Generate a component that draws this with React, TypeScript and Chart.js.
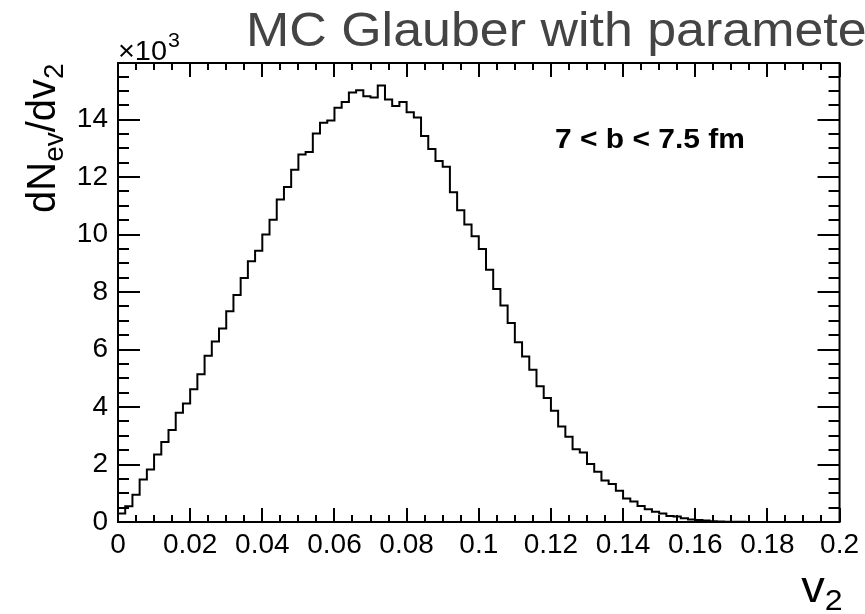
import React, { useEffect, useRef } from 'react';
import { Chart, registerables } from 'chart.js';

Chart.register(...registerables);

// ---- data ----
const X_MIN = 0;
const X_MAX = 0.2;
const BIN_COUNT = 100;
const Y_MAX = 15.97; // in units of 10^3

// dN_ev/dv_2 per bin (units of 10^3)
const binCounts = [
  0.3, 0.55, 0.95, 1.48, 1.83, 2.35, 2.78, 3.2, 3.8, 4.12,
  4.62, 5.14, 5.78, 6.28, 6.73, 7.33, 7.9, 8.49, 9.07, 9.44,
  10.0, 10.52, 11.22, 11.66, 12.26, 12.79, 12.87, 13.52, 13.89, 13.97,
  14.41, 14.61, 14.94, 15.02, 14.81, 14.77, 15.19, 14.7, 14.47, 14.61,
  14.26, 14.07, 13.43, 12.98, 12.56, 12.36, 11.47, 10.85, 10.35, 9.94,
  9.5, 8.78, 8.11, 7.53, 6.92, 6.25, 5.76, 5.3, 4.72, 4.31,
  3.87, 3.32, 2.97, 2.53, 2.42, 2.02, 1.75, 1.44, 1.32, 1.09,
  0.82, 0.71, 0.56, 0.44, 0.36, 0.3, 0.21, 0.19, 0.13, 0.09,
  0.07, 0.05, 0.03, 0.02, 0.01, 0.01, 0.005, 0.004, 0.002, 0,
  0, 0, 0, 0, 0, 0, 0, 0, 0, 0,
];

const xTickValues = [0, 0.02, 0.04, 0.06, 0.08, 0.1, 0.12, 0.14, 0.16, 0.18, 0.2];
const xTickLabels = ['0', '0.02', '0.04', '0.06', '0.08', '0.1', '0.12', '0.14', '0.16', '0.18', '0.2'];
const xMinorStep = 0.005;
const yTickValues = [0, 2, 4, 6, 8, 10, 12, 14];
const yTickLabels = ['0', '2', '4', '6', '8', '10', '12', '14'];
const yMinorStep = 0.5;

const titleText = 'MC Glauber with parameters';
const annotationText = '7 < b < 7.5 fm';

const FONT = "'Liberation Sans', Arial, Helvetica, sans-serif";
const STRETCH = 1.07;

function drawStretched(ctx: CanvasRenderingContext2D, text: string, x: number, y: number, font: string, sx = STRETCH) {
  ctx.save();
  ctx.font = font;
  ctx.translate(x, y);
  ctx.scale(sx, 1);
  ctx.fillText(text, 0, 0);
  const w = ctx.measureText(text).width * sx;
  ctx.restore();
  return w;
}

const rootFramePlugin = {
  id: 'rootFrame',
  afterDraw(chart: any) {
    const ctx = chart.ctx as CanvasRenderingContext2D;
    const { left, right, top, bottom } = chart.chartArea;
    const xs = chart.scales.x;
    const ys = chart.scales.y;
    ctx.save();
    ctx.strokeStyle = '#000';
    ctx.lineWidth = 2;
    ctx.strokeRect(left, top, right - left, bottom - top);

    // x ticks (bottom & top), inward
    const nx = Math.round((X_MAX - X_MIN) / xMinorStep);
    ctx.beginPath();
    for (let k = 0; k <= nx; k++) {
      const v = X_MIN + k * xMinorStep;
      const px = Math.round(xs.getPixelForValue(v));
      const major = k % 4 === 0;
      const len = major ? 14 : 7;
      ctx.moveTo(px, bottom);
      ctx.lineTo(px, bottom - len);
      ctx.moveTo(px, top);
      ctx.lineTo(px, top + len);
    }
    // y ticks (left & right), inward
    const ny = Math.floor(Y_MAX / yMinorStep);
    for (let k = 0; k <= ny; k++) {
      const v = k * yMinorStep;
      const py = Math.round(ys.getPixelForValue(v));
      const major = k % 4 === 0;
      const len = major ? 22 : 11;
      ctx.moveTo(left, py);
      ctx.lineTo(left + len, py);
      ctx.moveTo(right, py);
      ctx.lineTo(right - len, py);
    }
    ctx.stroke();

    ctx.textBaseline = 'alphabetic';
    ctx.textAlign = 'left';

    // title
    ctx.fillStyle = '#444';
    drawStretched(ctx, titleText, 246, 46, `49px ${FONT}`, 1.06);

    // x10^3
    ctx.fillStyle = '#000';
    const w10 = drawStretched(ctx, '\u00d710', left, 60, `27px ${FONT}`);
    drawStretched(ctx, '3', left + w10 + 1, 47, `20px ${FONT}`);

    // annotation
    drawStretched(ctx, annotationText, 555, 148, `bold 28px ${FONT}`);

    // x-axis title v_2
    ctx.font = `44px ${FONT}`;
    const wv = ctx.measureText('v').width * STRETCH;
    ctx.font = `30px ${FONT}`;
    const w2 = ctx.measureText('2').width * STRETCH;
    const xStart = right + 3 - wv - w2;
    drawStretched(ctx, 'v', xStart, 602, `44px ${FONT}`);
    drawStretched(ctx, '2', xStart + wv, 610, `30px ${FONT}`);

    // y-axis title dN_ev/dv_2, rotated
    ctx.save();
    ctx.translate(55, 213);
    ctx.rotate(-Math.PI / 2);
    const parts: [string, number, number][] = [
      ['dN', 40, 0],
      ['ev', 28, 8],
      ['/dv', 40, 0],
      ['2', 28, 8],
    ];
    let cx = 0;
    for (const [t, size, dy] of parts) {
      ctx.font = `${size}px ${FONT}`;
      ctx.fillText(t, cx, dy);
      cx += ctx.measureText(t).width;
    }
    ctx.restore();

    ctx.restore();
  },
};

export default function App() {
  const canvasRef = useRef<HTMLCanvasElement | null>(null);

  useEffect(() => {
    if (!canvasRef.current) return;
    const binWidth = (X_MAX - X_MIN) / BIN_COUNT;
    const points = binCounts.map((c, i) => ({ x: X_MIN + i * binWidth, y: c }));
    points.push({ x: X_MAX, y: binCounts[BIN_COUNT - 1] });

    const tickFont = { family: FONT, size: 28 };
    const chart = new Chart(canvasRef.current, {
      type: 'line',
      data: {
        datasets: [
          {
            data: points,
            stepped: 'before',
            borderColor: '#000',
            borderWidth: 2,
            pointRadius: 0,
            fill: false,
            tension: 0,
          },
        ],
      },
      options: {
        responsive: false,
        animation: false,
        layout: { padding: { left: 0, right: 22, top: 63, bottom: 0 } },
        plugins: { legend: { display: false }, tooltip: { enabled: false }, title: { display: false } },
        scales: {
          x: {
            type: 'linear',
            min: X_MIN,
            max: X_MAX,
            grid: { display: false, drawTicks: false },
            border: { display: false },
            afterBuildTicks: (s: any) => {
              s.ticks = xTickValues.map((v) => ({ value: v }));
            },
            afterFit: (s: any) => {
              s.height = 92;
            },
            ticks: {
              autoSkip: false,
              maxRotation: 0,
              padding: 6,
              color: '#000',
              font: tickFont,
              callback: (_v: any, i: number) => xTickLabels[i],
            },
          },
          y: {
            type: 'linear',
            min: 0,
            max: Y_MAX,
            grid: { display: false, drawTicks: false },
            border: { display: false },
            afterBuildTicks: (s: any) => {
              s.ticks = yTickValues.map((v) => ({ value: v }));
            },
            afterFit: (s: any) => {
              s.width = 118;
            },
            ticks: {
              autoSkip: false,
              padding: 10,
              color: '#000',
              font: tickFont,
              callback: (_v: any, i: number) => yTickLabels[i],
            },
          },
        },
      },
      plugins: [rootFramePlugin],
    });
    return () => chart.destroy();
  }, []);

  return (
    <div style={{ position: 'fixed', left: 0, top: 0, width: 865, height: 614, background: '#fff' }}>
      <canvas ref={canvasRef} width={865} height={614} />
    </div>
  );
}
